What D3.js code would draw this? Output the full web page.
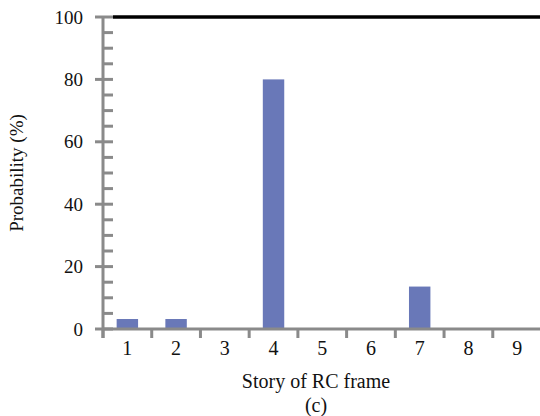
<!DOCTYPE html>
<html>
<head>
<meta charset="utf-8">
<script src="https://cdn.jsdelivr.net/npm/d3@7"></script>
<style>
  html, body { margin: 0; padding: 0; background: #fff; }
  svg { display: block; font-family: "Liberation Serif", "Times New Roman", serif; }
</style>
</head>
<body>
<svg id="chart" width="540" height="416"></svg>
<script>
// Probability of the damaged story, per story of the RC frame
const stories = ["1", "2", "3", "4", "5", "6", "7", "8", "9"];
const probability = [3.2, 3.2, 0, 80, 0, 0, 13.6, 0, 0];
const yMajorTicks = [0, 20, 40, 60, 80, 100];
const yMinorStep = 5;

(function () {
const svg = d3.select("#chart");
const axisColor = "#8a8a8a";
const barColor = "#6978b8";

const mLeft = 103, mRight = 541.5, mTop = 17, mBottom = 329;

const x = d3.scaleBand().domain(stories).range([mLeft, mRight]).padding(0);
const y = d3.scaleLinear().domain([0, 100]).range([mBottom, mTop]);

const bw = x.bandwidth();
const barW = bw * 0.44;

// bars
svg.append("g").selectAll("rect")
  .data(stories.map((s, i) => ({ s, v: probability[i] })).filter(d => d.v > 0))
  .join("rect")
  .attr("x", d => x(d.s) + (bw - barW) / 2)
  .attr("y", d => y(d.v))
  .attr("width", barW)
  .attr("height", d => y(0) - y(d.v))
  .attr("fill", barColor);

// top border line
svg.append("line")
  .attr("x1", mLeft + 10).attr("x2", 540)
  .attr("y1", y(100)).attr("y2", y(100))
  .attr("stroke", "#000").attr("stroke-width", 3.5);

// y axis: minor ticks inside, major ticks across the axis
const gy = svg.append("g");
const minor = d3.range(0, 100 + 1e-9, yMinorStep).filter(v => !yMajorTicks.includes(v));
gy.selectAll("line.minor").data(minor).join("line")
  .attr("class", "minor")
  .attr("x1", mLeft).attr("x2", mLeft + 10)
  .attr("y1", d => y(d)).attr("y2", d => y(d))
  .attr("stroke", axisColor).attr("stroke-width", 3);
gy.selectAll("line.major").data(yMajorTicks).join("line")
  .attr("class", "major")
  .attr("x1", mLeft - 8).attr("x2", mLeft + 10)
  .attr("y1", d => y(d)).attr("y2", d => y(d))
  .attr("stroke", axisColor).attr("stroke-width", 3);
gy.selectAll("text").data(yMajorTicks).join("text")
  .attr("x", mLeft - 20)
  .attr("y", d => y(d))
  .attr("dy", "0.35em")
  .attr("text-anchor", "end")
  .attr("font-size", 19)
  .attr("fill", "#111")
  .text(d => d);

// x axis line and boundary ticks
const gx = svg.append("g");
gx.append("line")
  .attr("x1", mLeft).attr("x2", 540)
  .attr("y1", mBottom).attr("y2", mBottom)
  .attr("stroke", axisColor).attr("stroke-width", 3);
const boundaries = stories.map(s => x(s)).concat([x(stories[stories.length - 1]) + bw]);
gx.selectAll("line.tick").data(boundaries).join("line")
  .attr("class", "tick")
  .attr("x1", d => d).attr("x2", d => d)
  .attr("y1", mBottom).attr("y2", mBottom + 9)
  .attr("stroke", axisColor).attr("stroke-width", 3);
gx.selectAll("text").data(stories).join("text")
  .attr("x", d => x(d) + bw / 2)
  .attr("y", 355)
  .attr("text-anchor", "middle")
  .attr("font-size", 20)
  .attr("fill", "#111")
  .text(d => d);

// y axis line
svg.append("line")
  .attr("x1", mLeft).attr("x2", mLeft)
  .attr("y1", mTop).attr("y2", mBottom + 9)
  .attr("stroke", axisColor).attr("stroke-width", 3);

// titles
svg.append("text")
  .attr("transform", `translate(23,${(mTop + mBottom) / 2}) rotate(-90)`)
  .attr("text-anchor", "middle")
  .attr("font-size", 19)
  .attr("fill", "#111")
  .text("Probability (%)");
svg.append("text")
  .attr("x", 316).attr("y", 388)
  .attr("text-anchor", "middle")
  .attr("font-size", 20)
  .attr("fill", "#111")
  .text("Story of RC frame");
svg.append("text")
  .attr("x", 316).attr("y", 412)
  .attr("text-anchor", "middle")
  .attr("font-size", 20)
  .attr("fill", "#111")
  .text("(c)");
})();
</script>
</body>
</html>
